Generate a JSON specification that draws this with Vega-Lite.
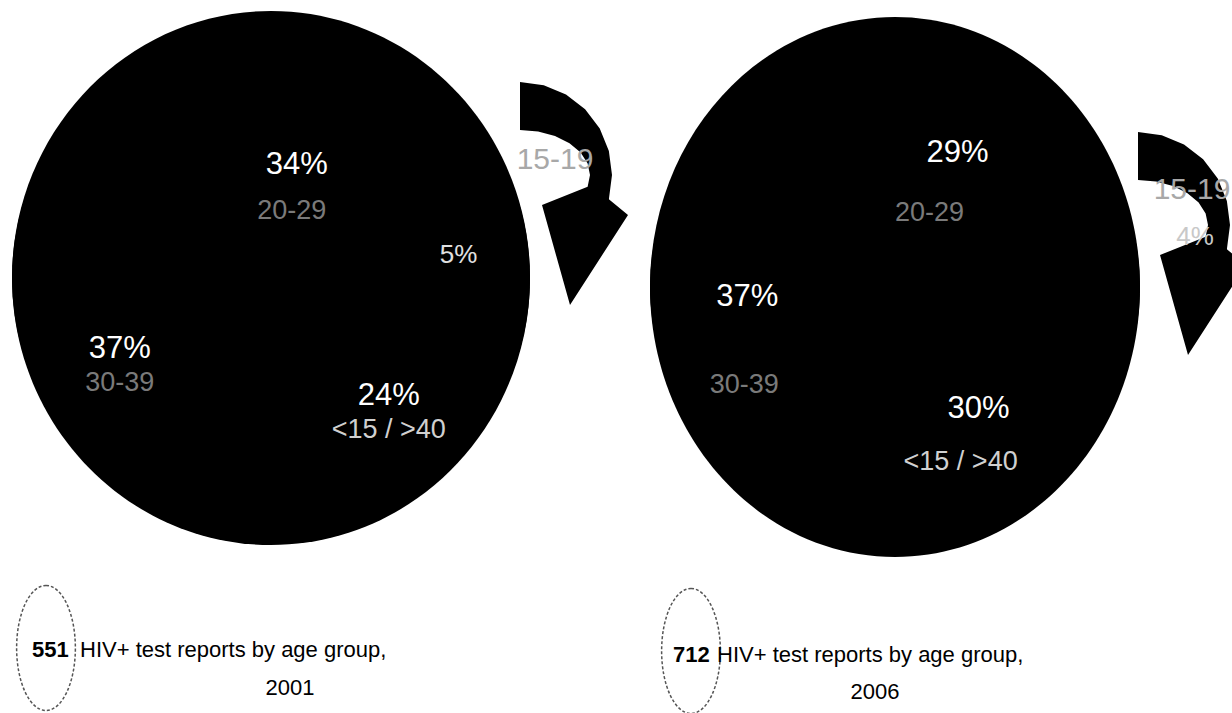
{
  "$schema": "https://vega.github.io/schema/vega-lite/v6.json",
  "width": 1232,
  "height": 713,
  "autosize": {"type": "none"},
  "padding": 0,
  "background": "white",
  "config": {"view": {"stroke": null}, "text": {"font": "Liberation Sans"}},
  "data": {
    "values": [
      {"year": "2001", "age": "20-29", "pct": 0.34, "idx": 1},
      {"year": "2001", "age": "15-19", "pct": 0.05, "idx": 2},
      {"year": "2001", "age": "<15 / >40", "pct": 0.24, "idx": 3},
      {"year": "2001", "age": "30-39", "pct": 0.37, "idx": 4},
      {"year": "2006", "age": "20-29", "pct": 0.29, "idx": 1},
      {"year": "2006", "age": "15-19", "pct": 0.04, "idx": 2},
      {"year": "2006", "age": "<15 / >40", "pct": 0.30, "idx": 3},
      {"year": "2006", "age": "30-39", "pct": 0.37, "idx": 4}
    ]
  },
  "datasets": {
    "pies": [
      {"year": "2001", "total": 551, "caption": "HIV+  test reports by age group,"},
      {"year": "2006", "total": 712, "caption": "HIV+ test reports by age group,"}
    ]
  },
  "encoding": {
    "x": {"field": "year", "type": "nominal", "scale": {"type": "point", "padding": 0, "domain": ["2001", "2006"], "range": [271, 895]}, "axis": null},
    "y": {"field": "year", "type": "nominal", "scale": {"type": "point", "padding": 0, "domain": ["2001", "2006"], "range": [278, 287]}, "axis": null}
  },
  "layer": [
    {
      "layer": [
        {"data": {"name": "pies"}, "transform": [{"filter": "datum.year === '2001'"}],
         "mark": {"type": "point", "shape": "M0,-1C0.5357,-1,0.97,-0.5523,0.97,0C0.97,0.5523,0.5357,1,0,1C-0.5357,1,-0.97,0.5523,-0.97,0C-0.97,-0.5523,-0.5357,-1,0,-1Z", "size": 285156, "filled": true, "fill": "black", "opacity": 1, "strokeWidth": 0}},
        {"transform": [{"filter": "datum.year === '2001'"}],
         "mark": {"type": "arc", "radius": 259, "color": "black"},
         "encoding": {
           "theta": {"field": "pct", "type": "quantitative", "stack": true, "scale": {"range": [-0.845, 5.4382]}},
           "order": {"field": "idx", "type": "quantitative"},
           "detail": {"field": "age", "type": "nominal"}
         }},
        {"transform": [{"filter": "datum.year === '2001'"}],
         "mark": {"type": "text", "radius": 116, "fontSize": 31, "fill": "white"},
         "encoding": {
           "theta": {"field": "pct", "type": "quantitative", "stack": true, "scale": {"range": [-0.845, 5.4382]}},
           "order": {"field": "idx", "type": "quantitative"},
           "detail": {"field": "age", "type": "nominal"},
           "text": {"field": "pct", "type": "quantitative", "format": ".0%", "condition": {"test": "datum.age !== '20-29'", "value": ""}}
         }},
        {"transform": [{"filter": "datum.year === '2001'"}],
         "mark": {"type": "text", "radius": 167, "fontSize": 31, "fill": "white"},
         "encoding": {
           "theta": {"field": "pct", "type": "quantitative", "stack": true, "scale": {"range": [-0.845, 5.4382]}},
           "order": {"field": "idx", "type": "quantitative"},
           "detail": {"field": "age", "type": "nominal"},
           "text": {"field": "pct", "type": "quantitative", "format": ".0%", "condition": {"test": "datum.age === '20-29' || datum.age === '15-19'", "value": ""}}
         }},
        {"transform": [{"filter": "datum.year === '2001'"}],
         "mark": {"type": "text", "radius": 116, "dx": -5, "dy": 46, "fontSize": 27},
         "encoding": {
           "theta": {"field": "pct", "type": "quantitative", "stack": true, "scale": {"range": [-0.845, 5.4382]}},
           "order": {"field": "idx", "type": "quantitative"},
           "detail": {"field": "age", "type": "nominal"},
           "color": {"field": "age", "type": "nominal", "scale": {"domain": ["15-19", "20-29", "30-39", "<15 / >40"], "range": ["#a8a8a8", "#7a7a7a", "#7a7a7a", "#d0d0d0"]}, "legend": null},
           "text": {"field": "age", "type": "nominal", "condition": {"test": "datum.age !== '20-29'", "value": ""}}
         }},
        {"transform": [{"filter": "datum.year === '2001'"}],
         "mark": {"type": "text", "radius": 167, "dy": 34, "fontSize": 27},
         "encoding": {
           "theta": {"field": "pct", "type": "quantitative", "stack": true, "scale": {"range": [-0.845, 5.4382]}},
           "order": {"field": "idx", "type": "quantitative"},
           "detail": {"field": "age", "type": "nominal"},
           "color": {"field": "age", "type": "nominal", "scale": {"domain": ["15-19", "20-29", "30-39", "<15 / >40"], "range": ["#a8a8a8", "#7a7a7a", "#7a7a7a", "#d0d0d0"]}, "legend": null},
           "text": {"field": "age", "type": "nominal", "condition": {"test": "datum.age === '20-29' || datum.age === '15-19'", "value": ""}}
         }},
        {"transform": [{"filter": "datum.year === '2001'"}],
         "mark": {"type": "text", "radius": 189, "fontSize": 26, "fill": "#e0e0e0"},
         "encoding": {
           "theta": {"field": "pct", "type": "quantitative", "stack": true, "scale": {"range": [-0.845, 5.4382]}},
           "order": {"field": "idx", "type": "quantitative"},
           "detail": {"field": "age", "type": "nominal"},
           "text": {"field": "pct", "type": "quantitative", "format": ".0%", "condition": {"test": "datum.age !== '15-19'", "value": ""}}
         }},
        {"data": {"name": "pies"}, "transform": [{"filter": "datum.year === '2001'"}],
         "mark": {"type": "point", "shape": "M0,-0.744L0.19,-0.718L0.368,-0.644L0.521,-0.526L0.638,-0.372L0.711,-0.193L0.736,0L0.711,0.193L0.864,0.32L0.4,1.04L0.176,0.24L0.541,0.093L0.56,0L0.541,-0.093L0.485,-0.18L0.396,-0.254L0.28,-0.312L0.145,-0.348L0,-0.36Z", "size": 62500, "filled": true, "fill": "black", "opacity": 1, "strokeWidth": 0, "xOffset": 249, "yOffset": -103}},
        {"transform": [{"filter": "datum.year === '2001'"}, {"filter": "datum.age === '15-19'"}],
         "mark": {"type": "text", "dx": 284, "dy": -118, "fontSize": 30, "fill": "#a8a8a8"},
         "encoding": {"text": {"field": "age", "type": "nominal"}}},
        {"data": {"name": "pies"}, "transform": [{"filter": "datum.year === '2001'"}],
         "mark": {"type": "point", "shape": "M0,-1C0.2596,-1,0.47,-0.5523,0.47,0C0.47,0.5523,0.2596,1,0,1C-0.2596,1,-0.47,0.5523,-0.47,0C-0.47,-0.5523,-0.2596,-1,0,-1Z", "size": 15625, "filled": false, "stroke": "#555555", "strokeWidth": 1.5, "strokeDash": [3, 2], "opacity": 1, "xOffset": -225, "yOffset": 370}},
        {"data": {"name": "pies"}, "transform": [{"filter": "datum.year === '2001'"}],
         "mark": {"type": "text", "align": "left", "baseline": "middle", "dx": -239, "dy": 372, "fontSize": 22, "fontWeight": "bold", "fill": "black"},
         "encoding": {"text": {"field": "total", "type": "quantitative"}}},
        {"data": {"name": "pies"}, "transform": [{"filter": "datum.year === '2001'"}],
         "mark": {"type": "text", "align": "left", "baseline": "middle", "dx": -191, "dy": 372, "fontSize": 22, "fill": "black"},
         "encoding": {"text": {"field": "caption", "type": "nominal"}}},
        {"data": {"name": "pies"}, "transform": [{"filter": "datum.year === '2001'"}],
         "mark": {"type": "text", "align": "center", "baseline": "middle", "dx": 19, "dy": 410, "fontSize": 22, "fill": "black"},
         "encoding": {"text": {"field": "year", "type": "nominal"}}}
      ]
    },
    {
      "layer": [
        {"data": {"name": "pies"}, "transform": [{"filter": "datum.year === '2006'"}],
         "mark": {"type": "point", "shape": "M0,-1C0.5012,-1,0.9074,-0.5523,0.9074,0C0.9074,0.5523,0.5012,1,0,1C-0.5012,1,-0.9074,0.5523,-0.9074,0C-0.9074,-0.5523,-0.5012,-1,0,-1Z", "size": 291600, "filled": true, "fill": "black", "opacity": 1, "strokeWidth": 0}},
        {"transform": [{"filter": "datum.year === '2006'"}],
         "mark": {"type": "arc", "radius": 245, "color": "black"},
         "encoding": {
           "theta": {"field": "pct", "type": "quantitative", "stack": true, "scale": {"range": [-0.4747, 5.8085]}},
           "order": {"field": "idx", "type": "quantitative"},
           "detail": {"field": "age", "type": "nominal"}
         }},
        {"transform": [{"filter": "datum.year === '2006'"}],
         "mark": {"type": "text", "radius": 148, "fontSize": 31, "fill": "white"},
         "encoding": {
           "theta": {"field": "pct", "type": "quantitative", "stack": true, "scale": {"range": [-0.4747, 5.8085]}},
           "order": {"field": "idx", "type": "quantitative"},
           "detail": {"field": "age", "type": "nominal"},
           "text": {"field": "pct", "type": "quantitative", "format": ".0%", "condition": {"test": "datum.age === '15-19'", "value": ""}}
         }},
        {"transform": [{"filter": "datum.year === '2006'"}],
         "mark": {"type": "text", "radius": 148, "dx": -28, "dy": 60, "fontSize": 27},
         "encoding": {
           "theta": {"field": "pct", "type": "quantitative", "stack": true, "scale": {"range": [-0.4747, 5.8085]}},
           "order": {"field": "idx", "type": "quantitative"},
           "detail": {"field": "age", "type": "nominal"},
           "color": {"field": "age", "type": "nominal", "scale": {"domain": ["15-19", "20-29", "30-39", "<15 / >40"], "range": ["#a8a8a8", "#7a7a7a", "#7a7a7a", "#d0d0d0"]}, "legend": null},
           "text": {"field": "age", "type": "nominal", "condition": {"test": "datum.age !== '20-29'", "value": ""}}
         }},
        {"transform": [{"filter": "datum.year === '2006'"}],
         "mark": {"type": "text", "radius": 148, "dx": -3, "dy": 88, "fontSize": 27},
         "encoding": {
           "theta": {"field": "pct", "type": "quantitative", "stack": true, "scale": {"range": [-0.4747, 5.8085]}},
           "order": {"field": "idx", "type": "quantitative"},
           "detail": {"field": "age", "type": "nominal"},
           "color": {"field": "age", "type": "nominal", "scale": {"domain": ["15-19", "20-29", "30-39", "<15 / >40"], "range": ["#a8a8a8", "#7a7a7a", "#7a7a7a", "#d0d0d0"]}, "legend": null},
           "text": {"field": "age", "type": "nominal", "condition": {"test": "datum.age !== '30-39'", "value": ""}}
         }},
        {"transform": [{"filter": "datum.year === '2006'"}],
         "mark": {"type": "text", "radius": 148, "dx": -18, "dy": 53, "fontSize": 27},
         "encoding": {
           "theta": {"field": "pct", "type": "quantitative", "stack": true, "scale": {"range": [-0.4747, 5.8085]}},
           "order": {"field": "idx", "type": "quantitative"},
           "detail": {"field": "age", "type": "nominal"},
           "color": {"field": "age", "type": "nominal", "scale": {"domain": ["15-19", "20-29", "30-39", "<15 / >40"], "range": ["#a8a8a8", "#7a7a7a", "#7a7a7a", "#d0d0d0"]}, "legend": null},
           "text": {"field": "age", "type": "nominal", "condition": {"test": "datum.age !== '<15 / >40'", "value": ""}}
         }},
        {"data": {"name": "pies"}, "transform": [{"filter": "datum.year === '2006'"}],
         "mark": {"type": "point", "shape": "M0,-0.744L0.19,-0.718L0.368,-0.644L0.521,-0.526L0.638,-0.372L0.711,-0.193L0.736,0L0.711,0.193L0.864,0.32L0.4,1.04L0.176,0.24L0.541,0.093L0.56,0L0.541,-0.093L0.485,-0.18L0.396,-0.254L0.28,-0.312L0.145,-0.348L0,-0.36Z", "size": 62500, "filled": true, "fill": "black", "opacity": 1, "strokeWidth": 0, "xOffset": 243, "yOffset": -62}},
        {"transform": [{"filter": "datum.year === '2006'"}, {"filter": "datum.age === '15-19'"}],
         "mark": {"type": "text", "dx": 297, "dy": -97, "fontSize": 30, "fill": "#a8a8a8"},
         "encoding": {"text": {"field": "age", "type": "nominal"}}},
        {"transform": [{"filter": "datum.year === '2006'"}, {"filter": "datum.age === '15-19'"}],
         "mark": {"type": "text", "dx": 300, "dy": -50, "fontSize": 26, "fill": "#c8c8c8"},
         "encoding": {"text": {"field": "pct", "type": "quantitative", "format": ".0%"}}},
        {"data": {"name": "pies"}, "transform": [{"filter": "datum.year === '2006'"}],
         "mark": {"type": "point", "shape": "M0,-1C0.2596,-1,0.47,-0.5523,0.47,0C0.47,0.5523,0.2596,1,0,1C-0.2596,1,-0.47,0.5523,-0.47,0C-0.47,-0.5523,-0.2596,-1,0,-1Z", "size": 15625, "filled": false, "stroke": "#555555", "strokeWidth": 1.5, "strokeDash": [3, 2], "opacity": 1, "xOffset": -204, "yOffset": 364}},
        {"data": {"name": "pies"}, "transform": [{"filter": "datum.year === '2006'"}],
         "mark": {"type": "text", "align": "left", "baseline": "middle", "dx": -222, "dy": 368, "fontSize": 22, "fontWeight": "bold", "fill": "black"},
         "encoding": {"text": {"field": "total", "type": "quantitative"}}},
        {"data": {"name": "pies"}, "transform": [{"filter": "datum.year === '2006'"}],
         "mark": {"type": "text", "align": "left", "baseline": "middle", "dx": -178, "dy": 368, "fontSize": 22, "fill": "black"},
         "encoding": {"text": {"field": "caption", "type": "nominal"}}},
        {"data": {"name": "pies"}, "transform": [{"filter": "datum.year === '2006'"}],
         "mark": {"type": "text", "align": "center", "baseline": "middle", "dx": -20, "dy": 405, "fontSize": 22, "fill": "black"},
         "encoding": {"text": {"field": "year", "type": "nominal"}}}
      ]
    }
  ],
  "resolve": {"scale": {"theta": "independent"}}
}
